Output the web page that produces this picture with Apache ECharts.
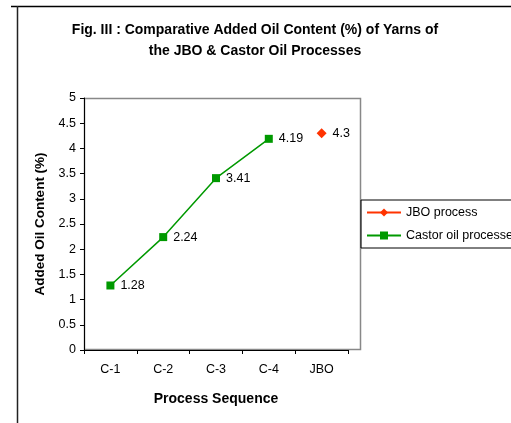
<!DOCTYPE html>
<html>
<head>
<meta charset="utf-8">
<script src="https://cdn.jsdelivr.net/npm/echarts@6/dist/echarts.min.js"></script>
<style>
  html, body { margin: 0; padding: 0; background: #fff; }
  #chart { width: 511px; height: 423px; }
</style>
</head>
<body>
<div id="chart"></div>
<script>
const categories = ["C-1", "C-2", "C-3", "C-4", "JBO"];
const castorValues = [1.28, 2.24, 3.41, 4.19, null];
const jboValues = [null, null, null, null, 4.3];

const FONT = "Liberation Sans, Arial, sans-serif";
const GREEN = "#009900";
const RED = "#ff3300";

const chart = echarts.init(document.getElementById("chart"));

chart.setOption({
  animation: false,
  textStyle: { fontFamily: FONT },
  title: {
    text: "Fig. III : Comparative Added Oil Content (%) of Yarns of\nthe JBO & Castor Oil Processes",
    left: 250,
    textAlign: "center",
    top: 15,
    textStyle: { fontSize: 14, fontWeight: "bold", color: "#000", lineHeight: 21, fontFamily: FONT },
  },
  graphic: [
    // outer frame lines
    { type: "line", shape: { x1: 11, y1: 6.5, x2: 511, y2: 6.5 }, style: { stroke: "#000", lineWidth: 1.5 } },
    { type: "line", shape: { x1: 17.5, y1: 6, x2: 17.5, y2: 423 }, style: { stroke: "#222", lineWidth: 1.5 } },
    // plot area border
    { type: "rect", shape: { x: 84.5, y: 98.5, width: 276, height: 251 }, style: { fill: null, stroke: "#888", lineWidth: 1.5 }, z: -1 },
  ],
  legend: {
    left: 361,
    top: 200,
    orient: "vertical",
    itemGap: 10,
    itemWidth: 34,
    itemHeight: 10,
    padding: [6, 8, 6, 5],
    borderColor: "#000",
    borderWidth: 1,
    textStyle: { fontSize: 12.5, color: "#000", fontFamily: FONT },
    data: ["JBO process", "Castor oil processes"],
  },
  grid: { left: 84, right: 163, top: 98, bottom: 73, containLabel: false },
  xAxis: {
    type: "category",
    data: categories,
    boundaryGap: true,
    name: "Process Sequence",
    nameLocation: "middle",
    nameGap: 42,
    nameTextStyle: { fontSize: 14, fontWeight: "bold", color: "#000", fontFamily: FONT },
    axisLine: { lineStyle: { color: "#000", width: 1 } },
    axisTick: { show: true, alignWithLabel: false, length: 4, lineStyle: { color: "#000" } },
    axisLabel: { color: "#000", fontSize: 12.5, margin: 13, fontFamily: FONT },
    splitLine: { show: false },
  },
  yAxis: {
    type: "value",
    min: 0,
    max: 5,
    interval: 0.5,
    name: "Added Oil Content (%)",
    nameLocation: "middle",
    nameGap: 29,
    nameTextStyle: { fontSize: 13.5, fontWeight: "bold", color: "#000", fontFamily: FONT },
    axisLine: { show: true, lineStyle: { color: "#000", width: 1 } },
    axisTick: { show: true, length: 4, lineStyle: { color: "#000" } },
    axisLabel: { color: "#000", fontSize: 12.5, margin: 8, fontFamily: FONT },
    splitLine: { show: false },
  },
  series: [
    {
      name: "JBO process",
      type: "line",
      data: jboValues,
      symbol: "diamond",
      symbolSize: 10,
      itemStyle: { color: RED },
      lineStyle: { color: RED, width: 1.5 },
      label: { show: true, position: "right", distance: 6, fontSize: 12.5, color: "#000", fontFamily: FONT },
    },
    {
      name: "Castor oil processes",
      type: "line",
      data: castorValues,
      symbol: "rect",
      symbolSize: 8,
      itemStyle: { color: GREEN },
      lineStyle: { color: GREEN, width: 1.5 },
      label: { show: true, position: "right", distance: 6, fontSize: 12.5, color: "#000", fontFamily: FONT },
    },
  ],
});
</script>
</body>
</html>
